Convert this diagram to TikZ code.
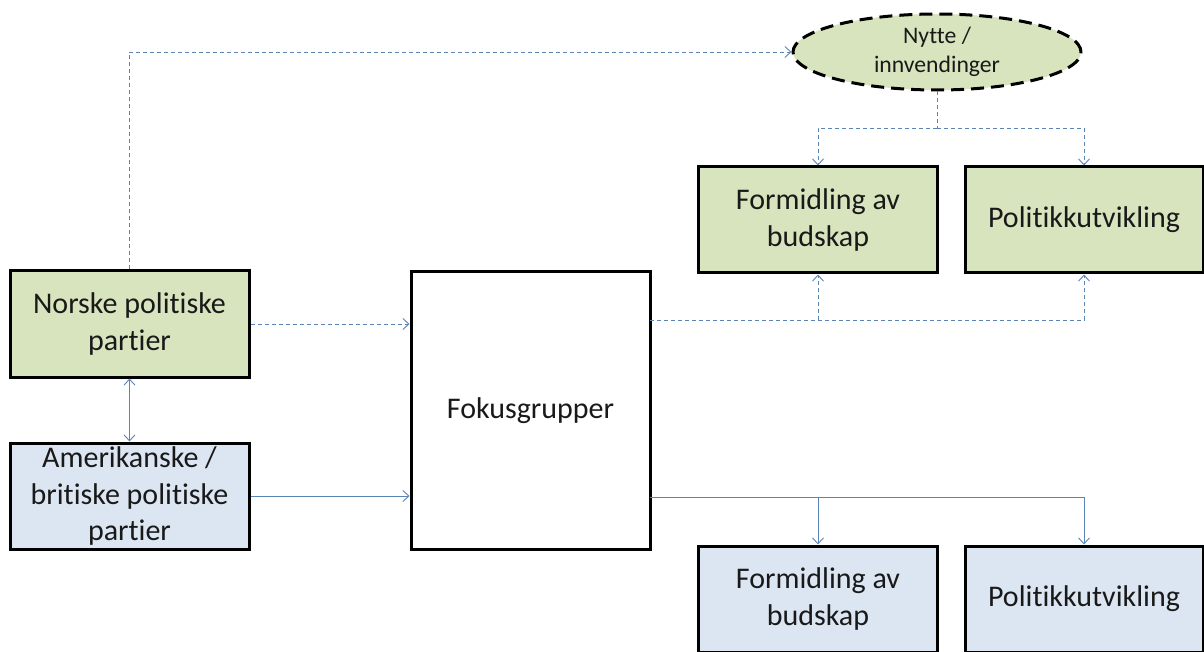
\documentclass[tikz,border=0pt]{standalone}
\usepackage{fontspec}
\setmainfont{Carlito}[Ligatures=NoCommon]
\usepackage{tikz}
\usetikzlibrary{arrows.meta,positioning,shapes,calc}
\definecolor{partygreen}{HTML}{D7E4BD}
\definecolor{partyblue}{HTML}{DCE6F2}
\definecolor{linkblue}{HTML}{5A84B4}

\begin{document}
\begin{tikzpicture}[x=1pt, y=-1pt, >={Straight Barb[length=6pt,width=11pt]}, box node/.style={rectangle,draw=black,line width=3pt,minimum width=239pt,minimum height=106pt,inner sep=0pt,align=center}, green node/.style={box node,fill=partygreen}, blue node/.style={box node,fill=partyblue}, dash link/.style={draw=linkblue,line width=0.9pt,dash pattern=on 4pt off 3pt}, solid link/.style={draw=linkblue,line width=0.9pt}]
\useasboundingbox (0,0) rectangle (1204,652);
\begin{scope}[every node/.style={text=black!90,font=\fontsize{30}{36.5}\selectfont}]
\node[green node] (norske) at (129.5,324) {Norske politiske\\partier};
\node[blue node] (amer) at (129.5,496) {Amerikanske /\\britiske politiske\\partier};
\node[box node,minimum height=277pt] (fokus) at (530.5,410.5) {Fokusgrupper};
\node[green node] (formA) at (818,220) {Formidling av\\budskap};
\node[green node,minimum width=238pt] (politA) at (1084,220) {Politikkutvikling};
\node[blue node] (formB) at (818,599) {Formidling av\\budskap};
\node[blue node,minimum width=238pt] (politB) at (1084,599) {Politikkutvikling};
\node[ellipse,draw=black,line width=3pt,dash pattern=on 13pt off 7pt,fill=partygreen,minimum width=288pt,minimum height=76pt,inner sep=0pt,align=center,font=\fontsize{23.7}{28.5}\selectfont] (nytte) at (937,52) {Nytte /\\innvendinger};
\end{scope}
\begin{scope}
\coordinate (nyttesplit) at (937,128);
\coordinate (fokusdash) at (650,320);
\coordinate (fokussolid) at (650,497);
\draw[dash link,->] (norske.north) |- (nytte.west);
\draw[dash link,->] (norske.east) -- (norske.east -| fokus.west);
\draw[solid link,<->] (norske.south) -- (amer.north);
\draw[solid link,->] (amer.east) -- (amer.east -| fokus.west);
\draw[dash link] (nytte.south) -- (nyttesplit);
\draw[dash link,->] (nyttesplit) -| (formA.north);
\draw[dash link,->] (nyttesplit) -| (politA.north);
\draw[dash link,->] (fokusdash) -| (politA.south);
\draw[dash link,->] (formA.south |- fokusdash) -- (formA.south);
\draw[solid link,->] (fokussolid) -| (politB.north);
\draw[solid link,->] (formB.north |- fokussolid) -- (formB.north);
\end{scope}
\end{tikzpicture}
\end{document}
